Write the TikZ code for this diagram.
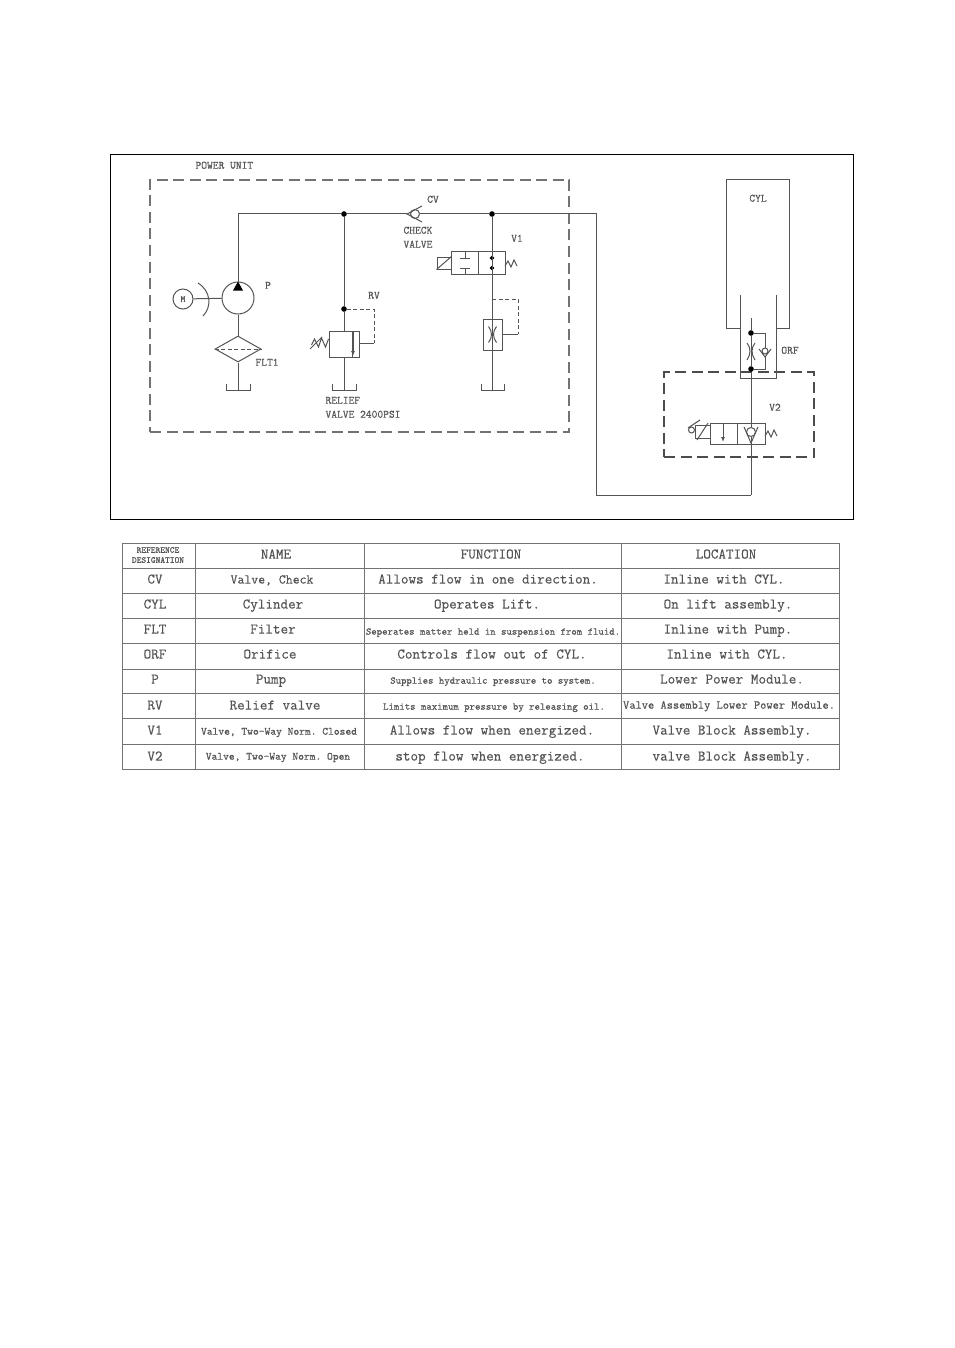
\documentclass[tikz,border=0pt]{standalone}
\usepackage{fontspec}
\setmonofont{Latin Modern Mono}[FakeBold=0.4]
\usepackage{tikz}
\usetikzlibrary{arrows.meta, positioning, shapes.geometric, calc}
\definecolor{ink}{gray}{0.33}
\begin{document}
\begin{tikzpicture}[x=1pt, y=-1pt, line width=1pt, draw=ink,
            tag/.style={font=\fontsize{11.2}{12}\selectfont\ttfamily, text=ink, inner sep=0pt, text height=1.5ex, text depth=0.25ex},
            tabcell/.style={font=\fontsize{14.7}{16}\selectfont\ttfamily, text=ink, inner sep=0pt, text height=1.9ex, text depth=0.25ex},
            tabmid/.style={font=\fontsize{12.1}{14}\selectfont\ttfamily, text=ink, inner sep=0pt, text height=1.5ex, text depth=0.25ex},
            tabname/.style={font=\fontsize{11}{13}\selectfont\ttfamily, text=ink, inner sep=0pt, text height=1.5ex, text depth=0.25ex},
            tabsmall/.style={font=\fontsize{10.3}{12}\selectfont\ttfamily, text=ink, inner sep=0pt, text height=1.5ex, text depth=0.25ex},
            tabhead/.style={font=\fontsize{9}{10}\selectfont\ttfamily, text=ink, inner sep=0pt, align=center},
            junction/.style={circle, fill=black, draw=black, inner sep=0pt, minimum size=4.5pt},
            valvebox/.style={draw, inner sep=0pt, minimum width=#1, minimum height=22pt},
            pilot/.style={dash pattern=on 4pt off 2.5pt},
            boundary/.style={dash pattern=on 11pt off 5.5pt, line width=1.3pt, draw=black!55},
            gridline/.style={line width=1pt, draw=black!55}]

            \useasboundingbox (0,0) rectangle (954,1348);

            % Outer frame and dashed unit boundaries
            \node[draw=black, line width=0.9pt, inner sep=0pt, minimum width=743pt, minimum height=365pt] (frame) at (481.5,336.5) {};
            \node[draw, boundary, inner sep=0pt, minimum width=419pt, minimum height=252pt] (powerunit) at (359.5,306) {};
            \node[draw, boundary, draw=black!70, inner sep=0pt, minimum width=150pt, minimum height=85pt] (v2unit) at (739,414.5) {};
            \node[tag, anchor=west] (powerlabel) at (195,166) {POWER UNIT};

            % Motor, pump, filter and their tank
            \node[draw, circle, inner sep=0pt, minimum size=20pt, font=\fontsize{9}{10}\selectfont\ttfamily, text=ink] (motor) at (183,299) {M};
            \node[draw, circle, inner sep=0pt, minimum size=32pt] (pump) at (238,298) {};
            \node[draw, diamond, inner sep=0pt, minimum width=46pt, minimum height=26pt] (filter) at (238,349) {};
            \coordinate (tankp) at (238,390);
            \draw (motor) -- (pump);
            \draw ([shift={(15,-16)}]motor.center) .. controls ([shift={(28,-8)}]motor.center) and ([shift={(29,8)}]motor.center) .. ([shift={(20,17)}]motor.center);
            \fill[black] (pump.north) -- ++(5,9) -- ++(-10,0) -- cycle;
            \draw (pump) -- (filter);
            \draw[pilot] (filter.west) -- (filter.east);
            \draw (filter) -- (tankp);
            \draw ([shift={(-12,-6)}]tankp) -- ++(0,6) -- ++(24,0) -- ++(0,-6);
            \node[tag] (plabel) at (268,286) {P};
            \node[tag, anchor=west] (fltlabel) at (255,363) {FLT1};

            % Main pressure line with check valve
            \node[junction] (jrv) at (344,214) {};
            \node[junction] (jv1) at (492,214) {};
            \node[draw, circle, inner sep=0pt, minimum size=9pt] (cvball) at (415,214) {};
            \coordinate (cvtip) at (407,214);
            \coordinate (cornerp) at (238,214);
            \coordinate (cornerr) at (596,214);
            \coordinate (cornerb) at (596,495);
            \coordinate (cornerv) at (751,495);
            \draw (pump) -- (cornerp) -- (jrv) -- (cvtip);
            \draw ([shift={(15,-8)}]cvtip) -- (cvtip) -- ([shift={(15,8)}]cvtip);
            \draw (cvball) -- (jv1) -- (cornerr) -- (cornerb) -- (cornerv);
            \node[tag] (cvlabel) at (433,200) {CV};
            \node[tag, anchor=west] (checklabel) at (403,231) {CHECK};
            \node[tag, anchor=west] (valvelabel) at (403,245) {VALVE};

            % Relief valve
            \node[junction] (jpilot) at (344,309) {};
            \node[valvebox=30pt, minimum height=26pt] (rv) at (344,344) {};
            \coordinate (tankr) at (344,390);
            \coordinate (rvtop) at (374,309);
            \coordinate (rvside) at (374,343);
            \draw (jrv) -- (jpilot) -- (rv);
            \draw (rv) -- (tankr);
            \draw ([shift={(-12,-6)}]tankr) -- ++(0,6) -- ++(24,0) -- ++(0,-6);
            \draw ([shift={(8,-13)}]rv.center) -- ([shift={(8,13)}]rv.center);
            \draw[-{Latex[length=5pt,width=4pt]}, line width=1.3pt] ([shift={(9,-13)}]rv.center) -- ([shift={(9,12)}]rv.center);
            \draw[pilot] (jpilot) -- (rvtop) -- (rvside);
            \draw (rv.east |- rvside) -- (rvside);
            \draw (rv.west |- 0,339) -- ++(-3,8) -- ++(-4,-9) -- ++(-3,9) -- ++(-4,-8) -- ++(-3,6);
            \draw (310,349) -- (322,337);
            \node[tag] (rvlabel) at (374,296) {RV};
            \node[tag, anchor=west] (relieflabel) at (325,401) {RELIEF};
            \node[tag, anchor=west] (rvvalue) at (325,415) {VALVE 2400PSI};

            % Valve V1 and orifice to tank
            \node[valvebox=54pt] (v1) at (478,263) {};
            \node[draw, inner sep=0pt, minimum width=14pt, minimum height=12pt] (v1sol) at (444,263) {};
            \node[draw, inner sep=0pt, minimum width=19pt, minimum height=31pt] (orf1) at (492.5,334.5) {};
            \node[junction, minimum size=3.5pt] (v1a) at (492,258) {};
            \node[junction, minimum size=3.5pt] (v1b) at (492,268) {};
            \coordinate (tankv) at (492,390);
            \coordinate (orftop) at (518,299);
            \coordinate (orfside) at (518,334);
            \coordinate (orfstart) at (492,299);
            \draw (v1.north) -- (v1.south);
            \draw (jv1) -- (tankv);
            \draw ([shift={(-11,-6)}]tankv) -- ++(0,6) -- ++(23,0) -- ++(0,-6);
            \draw (465,252) -- (465,258) (460,258) -- (470,258);
            \draw (465,274) -- (465,268) (460,268) -- (470,268);
            \draw (v1sol.south west) -- (v1sol.north east);
            \draw (505,266) -- (508,261) -- (511,267) -- (514,260) -- (517,266);
            \draw[pilot] (orfstart) -- (orftop) -- (orfside);
            \draw (orf1.east |- orfside) -- (orfside);
            \draw ([shift={(-4,-8)}]orf1.center) .. controls ([shift={(0,-3)}]orf1.center) and ([shift={(0,3)}]orf1.center) .. ([shift={(-4,8)}]orf1.center);
            \draw ([shift={(4,-8)}]orf1.center) .. controls ([shift={(0,-3)}]orf1.center) and ([shift={(0,3)}]orf1.center) .. ([shift={(4,8)}]orf1.center);
            \node[tag] (v1label) at (517,239) {V1};

            % Cylinder
            \coordinate (cyltl) at (726,180);
            \coordinate (cyltr) at (789,180);
            \draw (740,328) -- (726,328) -- (cyltl) -- (cyltr) -- (789,328) -- (776,328);
            \draw (740,295) -- (740,378) -- (776,378) -- (776,295);
            \node[tag] (cyllabel) at (758,199) {CYL};

            % Orifice with bypass check
            \coordinate (rodtop) at (751,318);
            \node[junction] (jorfa) at (751,333) {};
            \node[junction] (jorfb) at (751,369) {};
            \coordinate (orfc) at (751,351);
            \node[draw, circle, inner sep=0pt, minimum size=6pt] (orfball) at (765,351) {};
            \coordinate (orftip) at (765,357);
            \draw (rodtop) -- (jorfa) -- (jorfb);
            \draw (jorfa) -- (765,333) -- (orfball);
            \draw (orftip) -- (jorfb -| orftip) -- (jorfb);
            \draw ([shift={(-6,-8)}]orftip) -- (orftip) -- ([shift={(6,-8)}]orftip);
            \draw ([shift={(-4,-8)}]orfc) .. controls ([shift={(0,-3)}]orfc) and ([shift={(0,3)}]orfc) .. ([shift={(-4,9)}]orfc);
            \draw ([shift={(4,-8)}]orfc) .. controls ([shift={(0,-3)}]orfc) and ([shift={(0,3)}]orfc) .. ([shift={(4,9)}]orfc);
            \node[tag] (orflabel) at (790,351) {ORF};

            % Valve V2
            \node[valvebox=55pt, minimum height=21pt] (v2) at (737.5,433.5) {};
            \node[draw, inner sep=0pt, minimum width=15pt, minimum height=13pt] (v2sol) at (702.5,431.5) {};
            \node[draw, circle, inner sep=0pt, minimum size=9pt] (v2ball) at (751,432) {};
            \coordinate (v2tip) at (751,443);
            \node[draw, circle, inner sep=0pt, minimum size=6pt] (v2knob) at (691.5,430) {};
            \draw (v2.north) -- (v2.south);
            \draw[-{Latex[length=5pt,width=4pt]}] (723,424) -- (723,442);
            \draw (jorfb) -- (v2ball);
            \draw (v2ball) -- (cornerv);
            \draw ([shift={(-7,-16)}]v2tip) -- (v2tip) -- ([shift={(7,-16)}]v2tip);
            \draw (697,440) -- (708,423);
            \draw (688,428) -- (700,420);
            \draw (765,436) -- (768,431) -- (771,437) -- (774,430) -- (777,436);
            \node[tag] (v2label) at (775,408) {V2};

            % Table rules
            \draw[gridline] (122,543) rectangle (839,769);
            \draw[gridline] (122,568) -- (839,568);
            \draw[gridline] (122,593) -- (839,593);
            \draw[gridline] (122,618) -- (839,618);
            \draw[gridline] (122,643) -- (839,643);
            \draw[gridline] (122,669) -- (839,669);
            \draw[gridline] (122,693) -- (839,693);
            \draw[gridline] (122,718) -- (839,718);
            \draw[gridline] (122,744) -- (839,744);
            \draw[gridline] (195,543) -- (195,769);
            \draw[gridline] (364,543) -- (364,769);
            \draw[gridline] (621,543) -- (621,769);

            % Table header
            \node[tabhead] (headref) at (158,555) {REFERENCE\\DESIGNATION};
            \node[tabcell] (headname) at (276,555) {NAME};
            \node[tabcell] (headfunc) at (491,555) {FUNCTION};
            \node[tabcell] (headloc) at (726,555) {LOCATION};

            % Table rows
            \node[tabcell] (cvref) at (155,580) {CV};
            \node[tabcell, font=\fontsize{13.4}{15}\selectfont\ttfamily] (cvname) at (272,580) {Valve, Check};
            \node[tabcell] (cvfunc) at (488,580) {Allows flow in one direction.};
            \node[tabcell] (cvloc) at (724,580) {Inline with CYL.};

            \node[tabcell] (cylref) at (155,605) {CYL};
            \node[tabcell] (cylname) at (273,605) {Cylinder};
            \node[tabcell] (cylfunc) at (487,605) {Operates Lift.};
            \node[tabcell] (cylloc) at (728,605) {On lift assembly.};

            \node[tabcell] (fltref) at (155,630) {FLT};
            \node[tabcell] (fltname) at (273,630) {Filter};
            \node[tabsmall] (fltfunc) at (493,632) {Seperates matter held in suspension from fluid.};
            \node[tabcell] (fltloc) at (728,630) {Inline with Pump.};

            \node[tabcell] (orfref) at (155,655) {ORF};
            \node[tabcell] (orfname) at (270,655) {Orifice};
            \node[tabcell] (orffunc) at (492,655) {Controls flow out of CYL.};
            \node[tabcell] (orfloc) at (727,655) {Inline with CYL.};

            \node[tabcell] (pref) at (155,680) {P};
            \node[tabcell] (pname) at (271,680) {Pump};
            \node[tabsmall] (pfunc) at (493,681) {Supplies hydraulic pressure to system.};
            \node[tabcell] (ploc) at (732,680) {Lower Power Module.};

            \node[tabcell] (rvref) at (155,706) {RV};
            \node[tabcell] (rvname) at (275,706) {Relief valve};
            \node[tabsmall] (rvfunc) at (494,707) {Limits maximum pressure by releasing oil.};
            \node[tabmid] (rvloc) at (729,706) {Valve Assembly Lower Power Module.};

            \node[tabcell] (v1ref) at (155,731) {V1};
            \node[tabname] (v1name) at (279,732) {Valve, Two-Way Norm. Closed};
            \node[tabcell] (v1func) at (492,731) {Allows flow when energized.};
            \node[tabcell] (v1loc) at (732,731) {Valve Block Assembly.};

            \node[tabcell] (v2ref) at (155,757) {V2};
            \node[tabname] (v2name) at (278,757) {Valve, Two-Way Norm. Open};
            \node[tabcell] (v2func) at (490,757) {stop flow when energized.};
            \node[tabcell] (v2loc) at (732,757) {valve Block Assembly.};
        \end{tikzpicture}
\end{document}
